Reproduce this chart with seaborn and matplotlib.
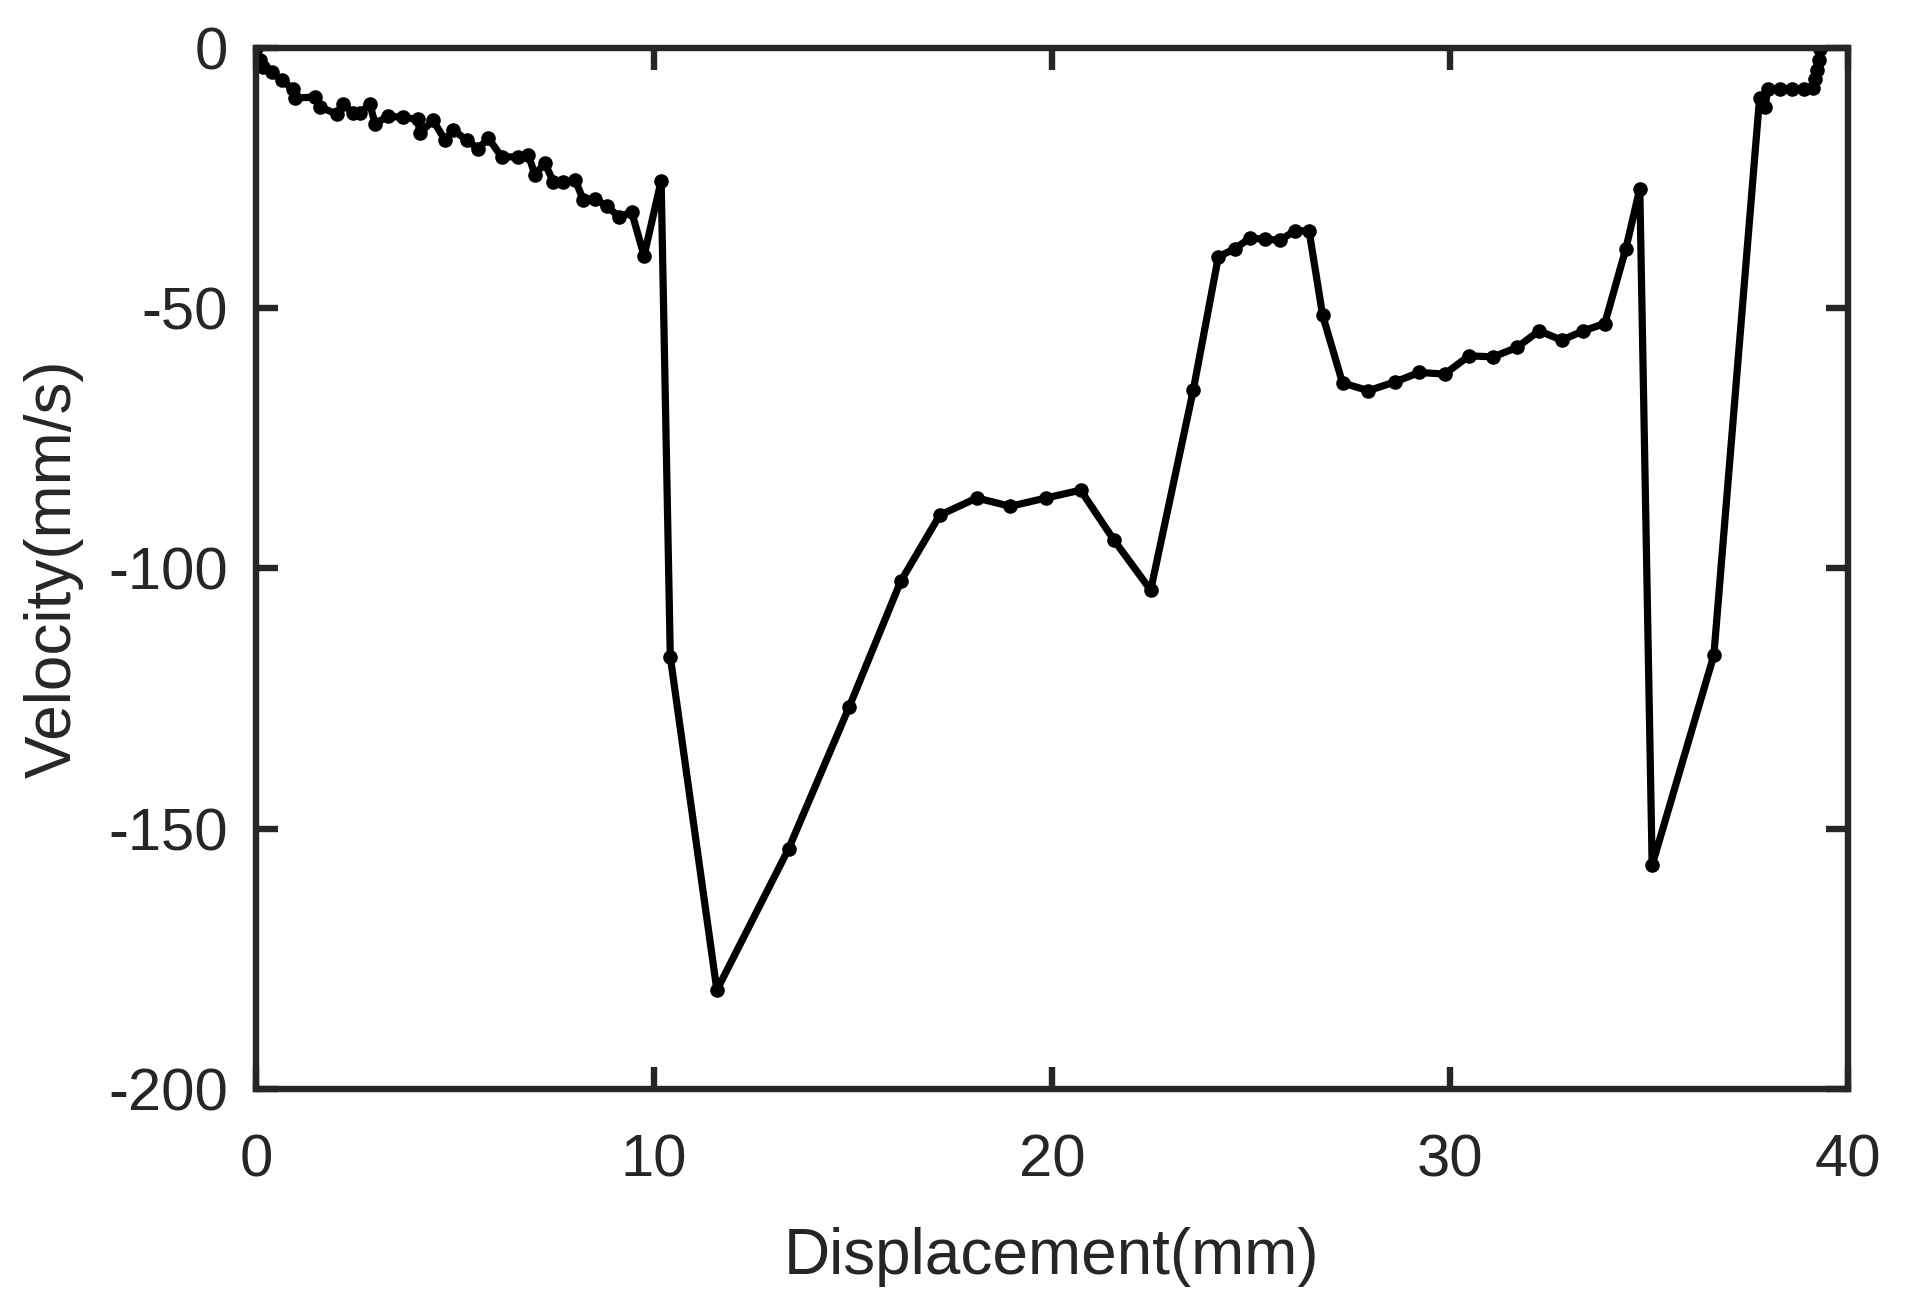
import numpy as np
import pandas as pd
import matplotlib
matplotlib.use("Agg")
import matplotlib.pyplot as plt
import seaborn as sns

# ---- data ----
displacement = [
    0.0, 0.10, 0.18, 0.39, 0.65, 0.94, 0.98, 1.48, 1.61, 2.03, 2.19, 2.44, 2.62,
    2.86, 2.99, 3.32, 3.70, 4.06, 4.12, 4.45, 4.75, 4.96, 5.29, 5.59, 5.84, 6.17,
    6.59, 6.84, 7.01, 7.26, 7.47, 7.72, 8.02, 8.22, 8.52, 8.81, 9.13, 9.44, 9.75,
    10.18, 10.41, 11.58, 13.38, 14.90, 16.20, 17.18, 18.11, 18.95, 19.85, 20.72,
    21.55, 22.48, 23.55, 24.18, 24.60, 24.97, 25.35, 25.73, 26.10, 26.46, 26.80,
    27.30, 27.95, 28.62, 29.23, 29.87, 30.48, 31.09, 31.68, 32.24, 32.81, 33.35,
    33.89, 34.42, 34.77, 35.08, 36.63, 37.78, 37.92, 37.98, 38.30, 38.60, 38.90,
    39.12, 39.17, 39.22, 39.26, 39.30,
]
velocity = [
    0.0, -2.3, -3.7, -4.7, -6.3, -8.0, -9.7, -9.5, -11.4, -12.8, -10.8, -12.6, -12.6,
    -10.8, -14.6, -13.2, -13.4, -13.8, -16.4, -14.0, -17.8, -15.8, -17.8, -19.4, -17.4, -21.0,
    -21.0, -20.6, -24.4, -22.2, -25.8, -25.8, -25.4, -29.2, -29.0, -30.5, -32.5, -31.6, -40.0,
    -25.6, -117.0, -181.0, -153.9, -126.7, -102.5, -89.8, -86.5, -88.1, -86.5, -85.0,
    -94.5, -104.2, -65.8, -40.2, -38.6, -36.6, -36.8, -37.0, -35.2, -35.2, -51.4,
    -64.4, -65.9, -64.2, -62.4, -62.7, -59.2, -59.4, -57.6, -54.4, -56.2, -54.4,
    -53.0, -38.6, -27.1, -157.0, -116.7, -9.6, -11.4, -8.0, -8.0, -8.0, -8.0,
    -7.8, -6.0, -4.4, -2.4, -0.3,
]
x_ticks = [0, 10, 20, 30, 40]
y_ticks = [0, -50, -100, -150, -200]
x_label = "Displacement(mm)"
y_label = "Velocity(mm/s)"

df = pd.DataFrame({"Displacement": displacement, "Velocity": velocity})

sns.set_theme(style="ticks")
plt.rcParams["font.family"] = ["Liberation Sans", "DejaVu Sans"]
plt.rcParams["axes.unicode_minus"] = False

ink = "#262626"
fig = plt.figure(figsize=(19.32, 13.10), dpi=100)
ax = fig.add_axes([0.1325, 0.1687, 0.824, 0.795])

sns.lineplot(data=df, x="Displacement", y="Velocity", sort=False, estimator=None,
             color="black", linewidth=5.2, marker="o", markersize=10.5,
             markeredgewidth=0, markerfacecolor="black", ax=ax)

ax.set_xlim(0, 40)
ax.set_ylim(-200, 0)
ax.set_xticks(x_ticks)
ax.set_yticks(y_ticks)
ax.set_xticklabels([str(t) for t in x_ticks])
ax.set_yticklabels([str(t) for t in y_ticks])

for s in ax.spines.values():
    s.set_visible(True)
    s.set_linewidth(4.6)
    s.set_color(ink)

ax.tick_params(axis="both", direction="in", length=16, width=4.6, color=ink,
               labelsize=43, labelcolor=ink, top=True, right=True)
ax.tick_params(axis="y", pad=20)
ax.tick_params(axis="x", pad=32)

ax.set_xlabel(x_label, fontsize=46, color=ink, labelpad=28)
ax.set_ylabel(y_label, fontsize=46, color=ink, labelpad=18)

fig.savefig("out.png", dpi=100, facecolor="white")
